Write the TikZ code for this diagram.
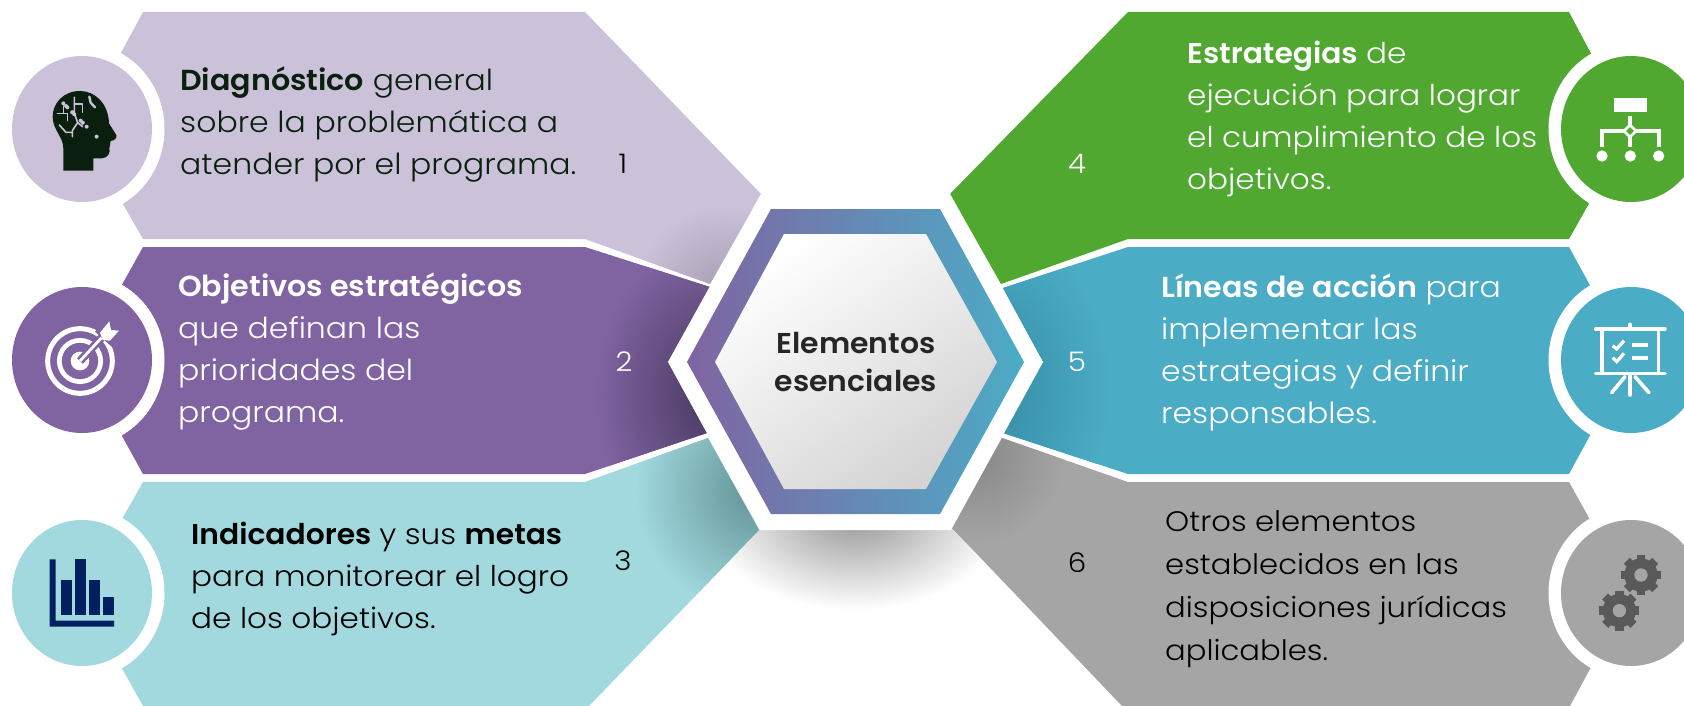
\documentclass[tikz,border=0pt]{standalone}
\usepackage{fontspec}
\setmainfont{Poppins Light}[BoldFont=Poppins SemiBold,FakeStretch=1.087,BoldFeatures={FakeStretch=1.04}]
\definecolor{cA}{HTML}{CBC2D9}\definecolor{cAd}{HTML}{A69DB3}
\definecolor{cB}{HTML}{8064A2}\definecolor{cBd}{HTML}{46365B}
\definecolor{cC}{HTML}{A1D9DE}\definecolor{cCd}{HTML}{5F8F93}
\definecolor{cD}{HTML}{50A831}
\definecolor{cE}{HTML}{4BACC6}\definecolor{cEd}{HTML}{348AA2}
\definecolor{cF}{HTML}{A5A5A5}\definecolor{cFd}{HTML}{878787}
\definecolor{cHead}{HTML}{0A1F0E}\definecolor{cNavy}{HTML}{002060}\definecolor{cGear}{HTML}{595959}
\definecolor{cShadow}{HTML}{969696}
\pgfdeclareradialshading{shA}{\pgfpoint{0bp}{0bp}}{color(0bp)=(cAd);color(25bp)=(cA);color(50bp)=(cA)}
\pgfdeclareradialshading{shB}{\pgfpoint{0bp}{0bp}}{color(0bp)=(cBd);color(25bp)=(cB);color(50bp)=(cB)}
\pgfdeclareradialshading{shC}{\pgfpoint{0bp}{0bp}}{color(0bp)=(cCd);color(25bp)=(cC);color(50bp)=(cC)}
\pgfdeclareradialshading{shE}{\pgfpoint{0bp}{0bp}}{color(0bp)=(cEd);color(25bp)=(cE);color(50bp)=(cE)}
\pgfdeclareradialshading{shF}{\pgfpoint{0bp}{0bp}}{color(0bp)=(cFd);color(25bp)=(cF);color(50bp)=(cF)}
\pgfdeclareradialshading{shS}{\pgfpoint{0bp}{0bp}}{color(0bp)=(cShadow);color(25bp)=(white);color(50bp)=(white)}
\tikzset{
 body/.style={align=left,anchor=west,font=\fontsize{29}{42}\selectfont,inner sep=0pt},
 numlab/.style={font=\fontsize{27}{32}\selectfont,inner sep=0pt},
 ring/.style={fill=white,x radius=82.5,y radius=86},
 disc/.style={x radius=70,y radius=73},
 iconw/.style={draw=white,line width=3.6pt},
}
\newcommand{\gearicon}[2]{%
 \foreach \ang in {0,45,...,315}{\draw[cGear,line width=8.5pt] (#1,#2)++(\ang:40)--++(\ang:20);}
 \fill[cGear] (#1,#2) circle (50);
 \fill[cF] (#1,#2) circle (20);
}
\begin{document}
\begin{tikzpicture}[x=1pt,y=-1pt]
\useasboundingbox (0,0) rectangle (1684,706);
\clip (0,0) rectangle (1684,706);
% soft shadow under the hexagon
\shade[shading=shS] (855,515) ellipse [x radius=150,y radius=95];
% left bands
\begin{scope}
\clip (143,12)--(585,12)--(761,194)--(710,284)--(585,239)--(143,239)--(80,129)--cycle;
\fill[cA] (0,0) rectangle (800,300);
\shade[shading=shA] (725,295) ellipse [x radius=90,y radius=90];
\end{scope}
\begin{scope}
\clip (143,247)--(585,247)--(710,287)--(668,362)--(707,433)--(585,474)--(143,474)--(80,360)--cycle;
\fill[cB] (0,240) rectangle (800,480);
\shade[shading=shB] (720,395) ellipse [x radius=125,y radius=160];
\end{scope}
\begin{scope}
\clip (143,482)--(585,482)--(708,438)--(759,530)--(589,706)--(143,706)--(80,593)--cycle;
\fill[cC] (0,430) rectangle (800,706);
\shade[shading=shC] (760,490) ellipse [x radius=125,y radius=125];
\end{scope}
% right bands
\fill[cD] (1128,12)--(1569,12)--(1631,129)--(1569,239)--(1128,239)--(1001,284)--(950,194)--cycle;
\begin{scope}
\clip (1128,247)--(1569,247)--(1631,360)--(1569,474)--(1128,474)--(1003,433)--(1043,362)--(1003,288)--cycle;
\fill[cE] (990,240) rectangle (1684,480);
\shade[shading=shE] (985,390) ellipse [x radius=125,y radius=170];
\end{scope}
\begin{scope}
\clip (1128,482)--(1569,482)--(1631,593)--(1570,706)--(1122,706)--(952,528)--(1002,438)--cycle;
\fill[cF] (940,430) rectangle (1684,706);
\shade[shading=shF] (975,455) ellipse [x radius=90,y radius=90];
\end{scope}
% circles
\fill[white] (82,129) ellipse [ring]; \fill[cA] (82,129) ellipse [disc];
\fill[white] (82,360) ellipse [ring]; \fill[cB] (82,360) ellipse [disc];
\fill[white] (82,593) ellipse [ring]; \fill[cC] (82,593) ellipse [disc];
\fill[white] (1631,129) ellipse [ring]; \fill[cD] (1631,129) ellipse [disc];
\fill[white] (1631,360) ellipse [ring]; \fill[cE] (1631,360) ellipse [disc];
\fill[white] (1631,593) ellipse [ring]; \fill[cF] (1631,593) ellipse [disc];
% hexagon
\fill[white] (668,362)--(761,194)--(950,194)--(1043,362)--(951,530)--(760,530)--cycle;
\path[left color=cB,right color=cE] (687,362)--(771,209)--(940,209)--(1024,362)--(940,514)--(771,514)--cycle;
\path[top color=white,bottom color=black!17,shading angle=35] (715,362)--(784,234)--(926,234)--(997,362)--(926,489)--(784,489)--cycle;
% texts
\node[font=\fontsize{28.7}{38}\selectfont\bfseries,text=black!85,align=center,inner sep=0pt] (centre) at (856,362) {Elementos\\esenciales};
\node[body,text=cHead] (t1) at (180,125) {\textbf{Diagnóstico} general\\sobre la problemática a\\atender por el programa.};
\node[body,text=white] (t2) at (178,352) {\textbf{Objetivos estratégicos}\\que definan las\\prioridades del\\programa.};
\node[body,text=black,font=\fontsize{28.6}{42}\selectfont] (t3) at (191,579) {\textbf{Indicadores}\hspace{8pt}y sus \textbf{metas}\\para monitorear el logro\\de los objetivos.};
\node[body,text=white,font=\fontsize{28.6}{42}\selectfont] (t4) at (1187,119) {\textbf{Estrategias} de\\ejecución para lograr\\el cumplimiento de los\\objetivos.};
\node[body,text=white] (t5) at (1161,352) {\textbf{Líneas de acción} para\\implementar las\\estrategias y definir\\responsables.};
\node[body,text=black,font=\fontsize{28.2}{43}\selectfont] (t6) at (1165,589) {Otros elementos\\establecidos en las\\disposiciones jurídicas\\aplicables.};
\node[numlab,text=black] (n1) at (623,164) {1};
\node[numlab,text=white] (n2) at (624,362) {2};
\node[numlab,text=black] (n3) at (623,561) {3};
\node[numlab,text=white] (n4) at (1077,164) {4};
\node[numlab,text=white] (n5) at (1077,362) {5};
\node[numlab,text=black] (n6) at (1077,563) {6};
% head icon
\begin{scope}[shift={(40,80)},scale=1/3]
\fill[cHead] (70,272)--(160,272)--(160,235)--(185,235) .. controls (205,235) and (212,215) .. (208,205)
 .. controls (212,190) and (210,185) .. (212,183) .. controls (225,182) and (232,172) .. (229,165)
 -- (207,130) .. controls (205,70) and (165,33) .. (120,33) .. controls (70,33) and (38,70) .. (38,110)
 .. controls (38,150) and (70,170) .. (70,205)--cycle;
\begin{scope}[cA,line width=1.6pt,line cap=round,line join=round]
\draw (52,100)--(82,100)--(82,122);
\draw (70,78)--(70,100);
\draw (103,52)--(103,100)--(113,128)--(97,152)--(97,170);
\draw (103,72)--(128,72)--(128,97);
\draw (113,128)--(128,140);
\draw (58,135)--(78,157)--(97,157);
\draw[line width=2.4pt] (148,50)--(152,68)--(165,82);
\foreach \px/\py in {70,78,82,122,103,52,97,170,128,97,128,140}{\fill (\px,\py) circle (6);}
\end{scope}
\end{scope}
% target icon
\begin{scope}[shift={(30,310)},scale=1/3]
\draw[white,line width=5pt] (150,153) circle (97);
\draw[white,line width=4.7pt] (150,153) circle (62);
\fill[white] (150,153) circle (28);
\draw[cB,line width=8pt] (150,153)--(225,72);
\draw[white,line width=2.8pt] (150,153)--(225,72);
\fill[cB] (195,65)--(236,20)--(280,65)--(245,110)--cycle;
\fill[white] (210,68)--(238,34)--(243,60)--(267,62)--(240,92)--(218,90)--cycle;
\end{scope}
% bars icon
\begin{scope}[shift={(30,545)},scale=1/3]
\fill[cNavy] (59,43)--(77,43)--(77,227)--(252,227)--(252,245)--(59,245)--cycle;
\fill[cNavy] (93,105) rectangle (126,210);
\fill[cNavy] (135,42) rectangle (168,210);
\fill[cNavy] (177,105) rectangle (210,210);
\fill[cNavy] (219,155) rectangle (252,210);
\end{scope}
% hierarchy icon
\begin{scope}[shift={(1580,85)},scale=1/3]
\fill[white] (102,40) rectangle (200,80);
\draw[iconw,line width=4pt] (150,92)--(150,120);
\draw[iconw,line width=2.6pt] (150,120)--(168,138)--(150,156)--(132,138)--cycle;
\draw[iconw,line width=4pt] (66,185)--(66,138)--(132,138);
\draw[iconw,line width=4pt] (168,138)--(237,138)--(237,185);
\draw[iconw,line width=4pt] (150,156)--(150,185);
\fill[white] (66,213) circle (17); \fill[white] (151,213) circle (17); \fill[white] (236,213) circle (17);
\end{scope}
% presentation icon
\begin{scope}[shift={(1580,315)},scale=1/3,line cap=round]
\draw[iconw] (47,42)--(255,42);
\draw[iconw] (47,175)--(255,175);
\draw[iconw] (66,42)--(66,175);
\draw[iconw] (236,42)--(236,175);
\draw[iconw] (150,28)--(150,42);
\draw[iconw] (150,178)--(150,240);
\draw[iconw] (135,185)--(95,233);
\draw[iconw] (165,185)--(207,233);
\draw[iconw,line cap=butt,line width=3.2pt] (98,92)--(110,102)--(132,77);
\draw[iconw,line cap=butt,line width=3.2pt] (98,128)--(110,140)--(132,115);
\draw[iconw,line cap=butt,line width=3.8pt] (155,90)--(205,90);
\draw[iconw,line cap=butt,line width=3.8pt] (155,128)--(205,128);
\end{scope}
% gears icon
\begin{scope}[shift={(1580,545)},scale=1/3]
\gearicon{183}{90}
\gearicon{118}{197}
\end{scope}
\end{tikzpicture}
\end{document}
